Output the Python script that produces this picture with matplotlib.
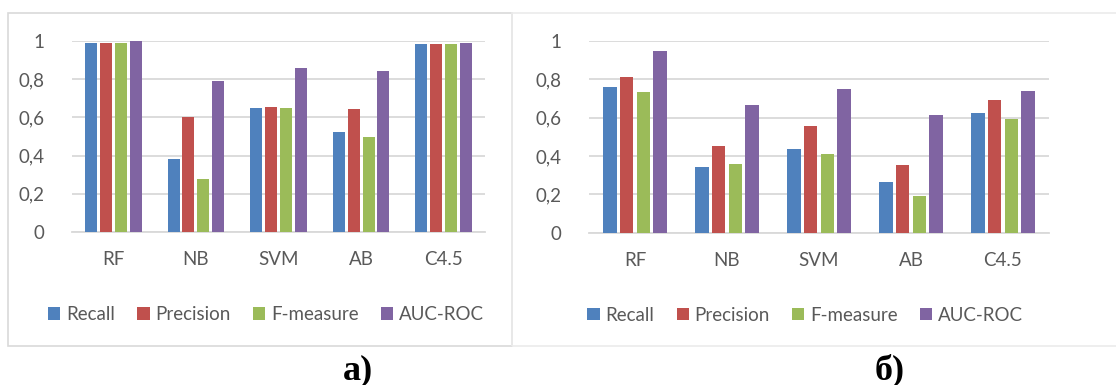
import matplotlib
matplotlib.use('Agg')
import matplotlib.pyplot as plt
from matplotlib.patches import Rectangle
import numpy as np

# data
models = ['RF', 'NB', 'SVM', 'AB', 'C4.5']
metrics = ['Recall', 'Precision', 'F-measure', 'AUC-ROC']
colors = ['#4F81BD', '#C0504D', '#9BBB59', '#8064A2']

# panel а)
recall_a = [0.99, 0.38, 0.647, 0.524, 0.983]
precision_a = [0.99, 0.60, 0.654, 0.642, 0.983]
fmeasure_a = [0.99, 0.276, 0.647, 0.497, 0.983]
aucroc_a = [1.0, 0.792, 0.857, 0.841, 0.991]

# panel б)
recall_b = [0.762, 0.342, 0.436, 0.266, 0.623]
precision_b = [0.814, 0.45, 0.557, 0.352, 0.694]
fmeasure_b = [0.736, 0.358, 0.411, 0.193, 0.595]
aucroc_b = [0.95, 0.667, 0.75, 0.613, 0.738]

yticks = [0, 0.2, 0.4, 0.6, 0.8, 1.0]
ytick_labels = ['0', '0,2', '0,4', '0,6', '0,8', '1']

plt.rcParams['font.family'] = ['Lato', 'DejaVu Sans']
txt = '#595959'
grid = '#D9D9D9'

fig = plt.figure(figsize=(11.16, 3.85), dpi=100)

# panel frames
fig.patches.append(Rectangle((8/1116, 1 - 346/385), 504/1116, 333/385,
                             transform=fig.transFigure, fill=False,
                             edgecolor='#D9D9D9', lw=1.2))
fig.patches.append(Rectangle((512/1116, 1 - 346/385), 620/1116, 333/385,
                             transform=fig.transFigure, fill=False,
                             edgecolor='#EBEBEB', lw=1.2))


def draw_panel(rect, series):
    ax = fig.add_axes(rect)
    x = np.arange(len(models))
    step = 0.18
    width = 0.145
    for i, (vals, name, c) in enumerate(zip(series, metrics, colors)):
        ax.bar(x + (i - 1.5) * step, vals, width, color=c, label=name, zorder=3)
    ax.set_xlim(-0.5, len(models) - 0.5)
    ax.set_ylim(0, 1.0)
    ax.set_yticks(yticks)
    ax.set_yticklabels(ytick_labels)
    ax.set_xticks(x)
    ax.set_xticklabels(models)
    ax.tick_params(length=0, colors=txt, labelsize=13.5)
    ax.tick_params(axis='y', pad=20)
    ax.tick_params(axis='x', pad=14)
    ax.grid(axis='y', color=grid, lw=1.3, zorder=0)
    ax.set_axisbelow(True)
    for s in ['top', 'right', 'left']:
        ax.spines[s].set_visible(False)
    ax.spines['bottom'].set_color(grid)
    ax.spines['bottom'].set_linewidth(1.3)
    ax.set_facecolor('none')
    leg = ax.legend(loc='upper center', bbox_to_anchor=(0.47, -0.3), ncol=4,
                    frameon=False, fontsize=13.5, handlelength=0.65,
                    handleheight=0.65, handletextpad=0.3, columnspacing=1.2)
    for t in leg.get_texts():
        t.set_color(txt)
    return ax


draw_panel([72/1116, 1 - 232/385, 413/1116, 191/385],
           [recall_a, precision_a, fmeasure_a, aucroc_a])
draw_panel([589/1116, 1 - 232.5/385, 460/1116, 191.5/385],
           [recall_b, precision_b, fmeasure_b, aucroc_b])

fig.text(358/1116, 1 - 379/385, 'а)', ha='center', va='baseline',
         family=['Liberation Serif'], fontweight='bold', fontsize=26)
fig.text(890/1116, 1 - 379/385, 'б)', ha='center', va='baseline',
         family=['Liberation Serif'], fontweight='bold', fontsize=26)

fig.savefig('out.png', dpi=100, facecolor='white')
